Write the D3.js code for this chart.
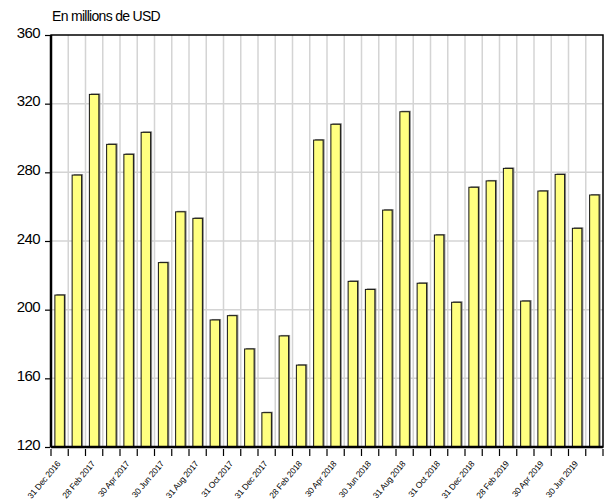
<!DOCTYPE html>
<html>
<head>
<meta charset="utf-8">
<script src="https://cdn.jsdelivr.net/npm/d3@7"></script>
<style>
  body { margin: 0; background: #fff; }
  text { font-family: "Liberation Sans", Arial, sans-serif; }
</style>
</head>
<body>
<svg id="chart" width="609" height="504"></svg>
<script>
// monthly end dates, Dec 2016 .. Jul 2019
var months = ["31 Dec 2016","31 Jan 2017","28 Feb 2017","31 Mar 2017","30 Apr 2017","31 May 2017",
  "30 Jun 2017","31 Jul 2017","31 Aug 2017","30 Sep 2017","31 Oct 2017","30 Nov 2017",
  "31 Dec 2017","31 Jan 2018","28 Feb 2018","31 Mar 2018","30 Apr 2018","31 May 2018",
  "30 Jun 2018","31 Jul 2018","31 Aug 2018","30 Sep 2018","31 Oct 2018","30 Nov 2018",
  "31 Dec 2018","31 Jan 2019","28 Feb 2019","31 Mar 2019","30 Apr 2019","31 May 2019",
  "30 Jun 2019","31 Jul 2019"];
var values = [208.5, 278.4, 325.4, 296.3, 290.5, 303.3, 227.4, 257, 253.2, 194, 196.5, 177.1,
  140, 184.7, 167.7, 298.8, 308, 216.5, 211.8, 258, 315.3, 215.4, 243.5, 204.3,
  271.3, 275, 282.3, 205, 269.1, 278.8, 247.4, 266.8];
var yTicks = [120, 160, 200, 240, 280, 320, 360];
var title = "En millions de USD";

var mLeft = 51, mRight = 603, mTop = 35, mBottom = 447;
var svg = d3.select("#chart");

var x = d3.scaleBand().domain(d3.range(months.length)).range([mLeft, mRight]).paddingInner(0).paddingOuter(0);
var y = d3.scaleLinear().domain([120, 360]).range([mBottom, mTop]);
var bw = x.bandwidth() * 0.55;

// grid
svg.append("g")
  .selectAll("line")
  .data(d3.range(1, months.length))
  .enter()
  .append("line")
  .attr("x1", d => x(d)).attr("x2", d => x(d))
  .attr("y1", mTop).attr("y2", mBottom)
  .attr("stroke", "#d4d4d4").attr("stroke-width", 1.5);

svg.append("g")
  .selectAll("line")
  .data(yTicks.slice(1, -1))
  .enter()
  .append("line")
  .attr("x1", mLeft).attr("x2", mRight)
  .attr("y1", d => y(d)).attr("y2", d => y(d))
  .attr("stroke", "#d4d4d4").attr("stroke-width", 1.5);

// bars (with a grey shadow strip)
var bars = svg.append("g")
  .selectAll("g")
  .data(values)
  .enter()
  .append("g");

bars.append("rect")
  .attr("x", (d, i) => x(i) + (x.bandwidth() - bw) / 2 + 1.5)
  .attr("y", d => y(d) - 1)
  .attr("width", bw)
  .attr("height", d => mBottom - y(d) + 1)
  .attr("fill", "#8c8c8c");

bars.append("rect")
  .attr("x", (d, i) => x(i) + (x.bandwidth() - bw) / 2)
  .attr("y", d => y(d))
  .attr("width", bw)
  .attr("height", d => mBottom - y(d))
  .attr("fill", "#ffff80")
  .attr("stroke", "#111")
  .attr("stroke-width", 1);

// frame
svg.append("rect")
  .attr("x", mLeft).attr("y", mTop)
  .attr("width", mRight - mLeft).attr("height", mBottom - mTop)
  .attr("fill", "none").attr("stroke", "#000").attr("stroke-width", 1.5);
svg.append("line")
  .attr("x1", mLeft).attr("x2", mLeft).attr("y1", mTop).attr("y2", mBottom)
  .attr("stroke", "#000").attr("stroke-width", 2.5);
svg.append("line")
  .attr("x1", mLeft).attr("x2", mRight).attr("y1", mBottom).attr("y2", mBottom)
  .attr("stroke", "#000").attr("stroke-width", 2.5);

// y axis
var yAxis = svg.append("g")
  .attr("transform", `translate(${mLeft - 1},0)`)
  .call(d3.axisLeft(y).tickValues(yTicks).tickSize(5).tickPadding(5));
yAxis.select(".domain").remove();
yAxis.selectAll("line").attr("stroke", "#000").attr("stroke-width", 1.2);
yAxis.selectAll("text")
  .attr("font-size", 15)
  .attr("letter-spacing", -0.6)
  .attr("fill", "#000")
  .attr("dy", "0.15em");

// x axis ticks at month boundaries
svg.append("g")
  .selectAll("line")
  .data(d3.range(0, months.length + 1))
  .enter()
  .append("line")
  .attr("x1", d => d < months.length ? x(d) : mRight)
  .attr("x2", d => d < months.length ? x(d) : mRight)
  .attr("y1", mBottom + 2).attr("y2", mBottom + 9)
  .attr("stroke", "#000").attr("stroke-width", 1.2);

// every other month label
svg.append("g")
  .selectAll("text")
  .data(d3.range(0, months.length, 2))
  .enter()
  .append("text")
  .attr("transform", d => `translate(${x(d) + 10},${mBottom + 17}) rotate(-50)`)
  .attr("text-anchor", "end")
  .attr("font-size", 8.5)
  .attr("letter-spacing", -0.2)
  .attr("fill", "#000")
  .text(d => months[d]);

svg.append("text")
  .attr("x", 52).attr("y", 21)
  .attr("font-size", 14)
  .attr("letter-spacing", -0.7)
  .attr("fill", "#000")
  .text(title);
</script>
</body>
</html>
